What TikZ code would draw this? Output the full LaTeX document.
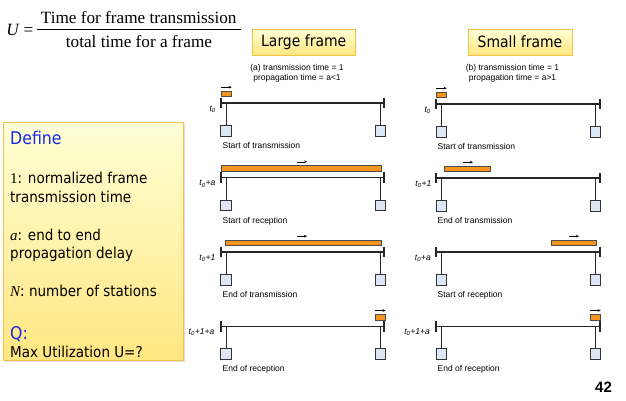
\documentclass[tikz,border=0pt]{standalone}
\usepackage{fontspec}
\setmainfont{Liberation Sans}
\newfontfamily\tah[FakeStretch=0.9]{DejaVu Sans}
\newfontfamily\tms{Liberation Serif}
\usetikzlibrary{arrows.meta,shadows}
\definecolor{framebar}{HTML}{F7941D}
\definecolor{stafill}{HTML}{DCE6F4}
\definecolor{ybord}{HTML}{F0C24A}
\definecolor{ytop}{HTML}{FFFFD6}
\definecolor{ybot}{HTML}{FFE680}
\definecolor{defblue}{HTML}{1428E6}

\tikzset{
  busline/.style={line width=1.1pt, black!85},
  endtick/.style={line width=1.3pt, black!85},
  stubline/.style={line width=0.8pt, black!85},
  station/.style={draw=black!80, fill=stafill, minimum size=10.5pt, inner sep=0pt, line width=0.8pt, anchor=north},
  fbar/.style={draw=black!70, fill=framebar, line width=0.6pt},
  farrow/.style={-{Stealth[length=3pt,width=2.6pt]}, line width=0.6pt},
  capt/.style={font=\fontsize{8.5}{10}\selectfont, anchor=base west, inner sep=0pt},
  tlab/.style={font=\fontsize{8.5}{10}\selectfont\itshape, anchor=base east, inner sep=0pt},
  phead/.style={font=\fontsize{8.5}{10}\selectfont, anchor=base, inner sep=0pt},
  ybox/.style={draw=ybord, top color=ytop, bottom color=ybot, line width=0.8pt,
     drop shadow={opacity=0.25, shadow xshift=1.2pt, shadow yshift=-1.2pt}},
  deftxt/.style={font=\tah\fontsize{15}{19}\selectfont, anchor=base west, inner sep=0pt},
  defhead/.style={font=\tah\fontsize{17.5}{20}\selectfont, text=defblue, anchor=base west, inner sep=0pt},
  formula/.style={font=\tms\fontsize{17.2}{20}\selectfont, anchor=base, inner sep=0pt}
}

% #1 name, #2 left tick x, #3 right tick x, #4 left stub x, #5 right stub x, #6 bus y, #7 caption, #8 time label
\newcommand\busrow[8]{%
  \coordinate (#1l) at (#2,#6);
  \coordinate (#1r) at (#3,#6);
  \draw[busline] (#1l) -- (#1r);
  \draw[endtick] ([yshift=5.2pt]#1l) -- ([yshift=-5.2pt]#1l);
  \draw[endtick] ([yshift=5.2pt]#1r) -- ([yshift=-5.2pt]#1r);
  \node[station] (#1sa) at (#4,#6+22) {};
  \node[station] (#1sb) at (#5,#6+22) {};
  \draw[stubline] (#1sa.north) -- (#1sa.north |- #1l);
  \draw[stubline] (#1sb.north) -- (#1sb.north |- #1r);
  \node[capt] (#1cap) at (#2+1.5,#6+45.5) {#7};
}
% #1 name, #2 x1, #3 x2, #4 bus y, #5 arrow x1, #6 arrow x2
\newcommand\framebar[6]{%
  \draw[fbar] (#2,#4-12) rectangle (#3,#4-6.5);
  \coordinate (#1a) at (#5,#4-15.8);
  \coordinate (#1b) at (#6,#4-15.8);
  \draw[farrow] (#1a) -- (#1b);
}

\begin{document}
\begin{tikzpicture}[x=1pt,y=-1pt]
\useasboundingbox (0,0) rectangle (626,400);

% formula
\node[formula, font=\tms\itshape\fontsize{17.2}{20}\selectfont] (U) at (12.5,35) {U};
\node[formula] (eq) at (28.5,35) {=};
\node[formula] (num) at (138.7,23.3) {Time for frame transmission};
\node[formula] (den) at (139,47.7) {total time for a frame};
\coordinate (fracl) at (36.7,29.5);
\coordinate (fracr) at (240.7,29.5);
\draw[line width=0.7pt] (fracl) -- (fracr);

% header boxes
\node[ybox, minimum width=102.7pt, minimum height=25.7pt, inner sep=0pt,
      font=\tah\fontsize{15.5}{18}\selectfont] (large) at (303.7,42.2) {Large frame};
\node[ybox, minimum width=104pt, minimum height=25.7pt, inner sep=0pt,
      font=\tah\fontsize{15.5}{18}\selectfont] (small) at (520,42.2) {Small frame};

% define box
\node[ybox, minimum width=179.7pt, minimum height=238pt, inner sep=0pt, anchor=north west] (defbox) at (3.3,122) {};
\node[defhead] (def) at (10,144.3) {Define};
\node[deftxt] (d1a) at (10,183.3) {{\tms 1}: normalized frame};
\node[deftxt] (d1b) at (10,202.3) {transmission time};
\node[deftxt] (d2a) at (10,240) {{\tms\itshape a}: end to end};
\node[deftxt] (d2b) at (10,258.5) {propagation delay};
\node[deftxt] (d3) at (10,296.7) {{\tms\itshape N}: number of stations};
\node[defhead] (q) at (10,339) {Q:};
\node[deftxt] (q2) at (10,357.3) {Max Utilization U=?};

% panel headers
\node[phead] (ha1) at (297,70) {(a) transmission time = 1};
\node[phead] (ha2) at (297,80.8) {propagation time = a<1};
\node[phead] (hb1) at (512.5,70) {(b) transmission time = 1};
\node[phead] (hb2) at (512.5,80.8) {propagation time = a>1};

% left panel (large frame)
\busrow{La}{221}{384}{226}{380.5}{103}{Start of transmission}{}
\busrow{Lb}{221}{384}{226}{380.5}{177.6}{Start of reception}{}
\busrow{Lc}{221}{384}{226}{380.5}{252}{End of transmission}{}
\busrow{Ld}{221}{384}{226}{380.5}{326.3}{End of reception}{}
\framebar{LaF}{221}{231.7}{103}{221}{231.7}
\framebar{LbF}{221}{381}{177.6}{297}{307}
\framebar{LcF}{225}{381}{252}{297}{307}
\framebar{LdF}{375}{385.7}{326.3}{375}{385.7}
\node[tlab] (tLa) at (216,111) {t\textsubscript{0}};
\node[tlab] (tLb) at (215.5,185.6) {t\textsubscript{0}+a};
\node[tlab] (tLc) at (215.5,260) {t\textsubscript{0}+1};
\node[tlab] (tLd) at (214.5,334.3) {t\textsubscript{0}+1+a};

% right panel (small frame)
\busrow{Ra}{436}{600}{441.3}{595.5}{104}{Start of transmission}{}
\busrow{Rb}{436}{600}{441.3}{595.5}{178}{End of transmission}{}
\busrow{Rc}{436}{600}{441.3}{595.5}{252}{Start of reception}{}
\busrow{Rd}{436}{600}{441.3}{595.5}{326.3}{End of reception}{}
\framebar{RaF}{436}{446.7}{104}{436}{446.7}
\framebar{RbF}{444}{490}{178}{463}{473}
\framebar{RcF}{551}{596}{252}{569}{579}
\framebar{RdF}{590}{600.7}{326.3}{590}{600.7}
\node[tlab] (tRa) at (431,112) {t\textsubscript{0}};
\node[tlab] (tRb) at (431.5,186) {t\textsubscript{0}+1};
\node[tlab] (tRc) at (431,260) {t\textsubscript{0}+a};
\node[tlab] (tRd) at (430,334.3) {t\textsubscript{0}+1+a};

% page number
\node[font=\bfseries\fontsize{15}{17}\selectfont, inner sep=0pt] (pg) at (603.5,387) {42};
\end{tikzpicture}
\end{document}
